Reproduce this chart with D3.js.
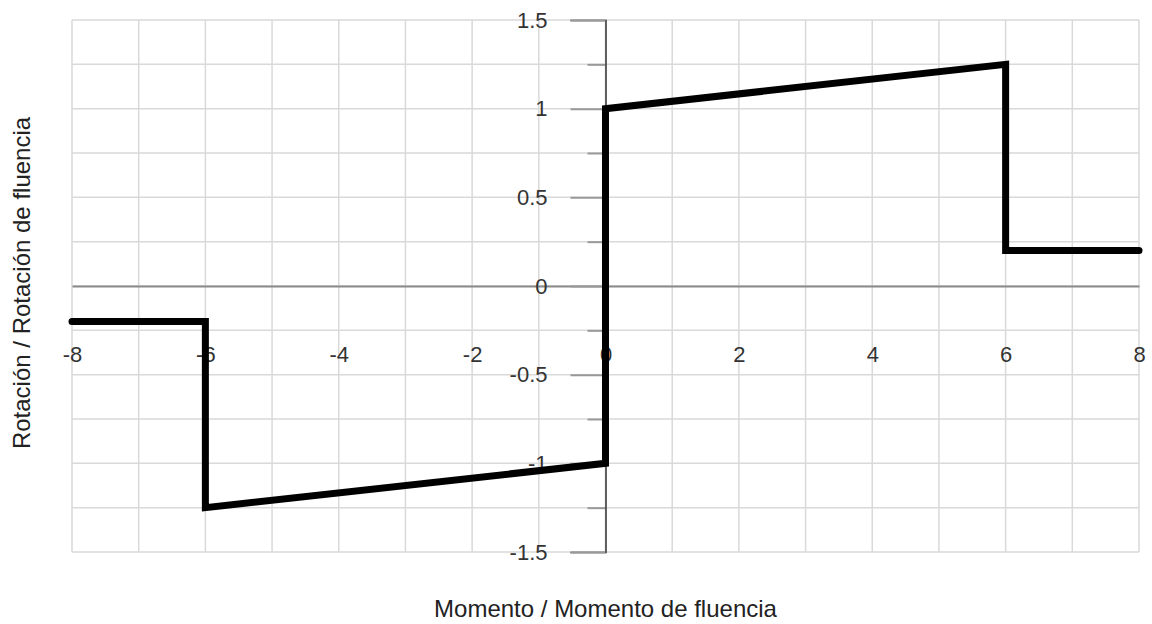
<!DOCTYPE html>
<html>
<head>
<meta charset="utf-8">
<script src="https://cdn.jsdelivr.net/npm/d3@7"></script>
<style>
  body { margin: 0; background: #fff; }
  text { font-family: "Liberation Sans", Arial, sans-serif; }
</style>
</head>
<body>
<svg width="1152" height="624"></svg>
<script>
// data
var momento  = [-8, -6, -6, 0, 0, 6, 6, 8];
var rotacion = [-0.2, -0.2, -1.25, -1, 1, 1.25, 0.2, 0.2];
var xTicks = [-8, -6, -4, -2, 0, 2, 4, 6, 8];
var yTicks = [-1.5, -1, -0.5, 0, 0.5, 1, 1.5];
var yMinorTicks = [-1.25, -0.75, -0.25, 0.25, 0.75, 1.25];
var xTitle = "Momento / Momento de fluencia";
var yTitle = "Rotación / Rotación de fluencia";

var svg = d3.select("svg"),
    margin = {top: 20, right: 13, bottom: 72, left: 72},
    width = +svg.attr("width") - margin.left - margin.right,
    height = +svg.attr("height") - margin.top - margin.bottom;

var x = d3.scaleLinear().domain([-8, 8]).range([0, width]),
    y = d3.scaleLinear().domain([-1.5, 1.5]).range([height, 0]);

var g = svg.append("g")
    .attr("transform", "translate(" + margin.left + "," + margin.top + ")");

// grid
g.append("g").selectAll("line")
    .data(d3.range(-8, 9, 1))
  .enter().append("line")
    .attr("x1", function(d) { return x(d); })
    .attr("x2", function(d) { return x(d); })
    .attr("y1", 0).attr("y2", height)
    .attr("stroke", "#d9d9d9").attr("stroke-width", 1.5);

g.append("g").selectAll("line")
    .data(d3.range(-1.5, 1.51, 0.25))
  .enter().append("line")
    .attr("y1", function(d) { return y(d); })
    .attr("y2", function(d) { return y(d); })
    .attr("x1", 0).attr("x2", width)
    .attr("stroke", "#d9d9d9").attr("stroke-width", 1.5);

var fmt = function(d) { return String(d); }; // plain hyphen, as in the original

// x axis along y = 0
var xAxis = d3.axisBottom(x).tickValues(xTicks).tickSize(0).tickPadding(60).tickFormat(fmt);
var gx = g.append("g")
    .attr("transform", "translate(0," + y(0) + ")")
    .call(xAxis);
gx.select(".domain").attr("stroke", "#8a8a8a").attr("stroke-width", 2);
gx.selectAll("text").attr("font-size", 22).attr("fill", "#333");

// y axis along x = 0
var yMinor = d3.axisLeft(y).tickValues(yMinorTicks).tickSize(18).tickFormat("");
var gym = g.append("g")
    .attr("transform", "translate(" + x(0) + ",0)")
    .call(yMinor);
gym.select(".domain").remove();
gym.selectAll("line").attr("stroke", "#999").attr("stroke-width", 2);

var yAxis = d3.axisLeft(y).tickValues(yTicks).tickSize(35).tickPadding(23).tickFormat(fmt);
var gy = g.append("g")
    .attr("transform", "translate(" + x(0) + ",0)")
    .call(yAxis);
gy.select(".domain").attr("stroke", "#333").attr("stroke-width", 1.5);
gy.selectAll("line").attr("stroke", "#999").attr("stroke-width", 2);
gy.selectAll("text").attr("font-size", 22).attr("fill", "#333");

// the curve
var line = d3.line()
    .x(function(d) { return x(d[0]); })
    .y(function(d) { return y(d[1]); });

g.append("path")
    .datum(d3.zip(momento, rotacion))
    .attr("d", line)
    .attr("fill", "none")
    .attr("stroke", "#000")
    .attr("stroke-width", 7)
    .attr("stroke-linecap", "round")
    .attr("stroke-linejoin", "miter");

// titles
svg.append("text")
    .attr("x", margin.left + x(0))
    .attr("y", 617)
    .attr("text-anchor", "middle")
    .attr("font-size", 24)
    .attr("fill", "#222")
    .text(xTitle);

svg.append("text")
    .attr("transform", "translate(30," + (margin.top + y(0) - 3) + ") rotate(-90)")
    .attr("text-anchor", "middle")
    .attr("font-size", 24)
    .attr("fill", "#222")
    .text(yTitle);
</script>
</body>
</html>
